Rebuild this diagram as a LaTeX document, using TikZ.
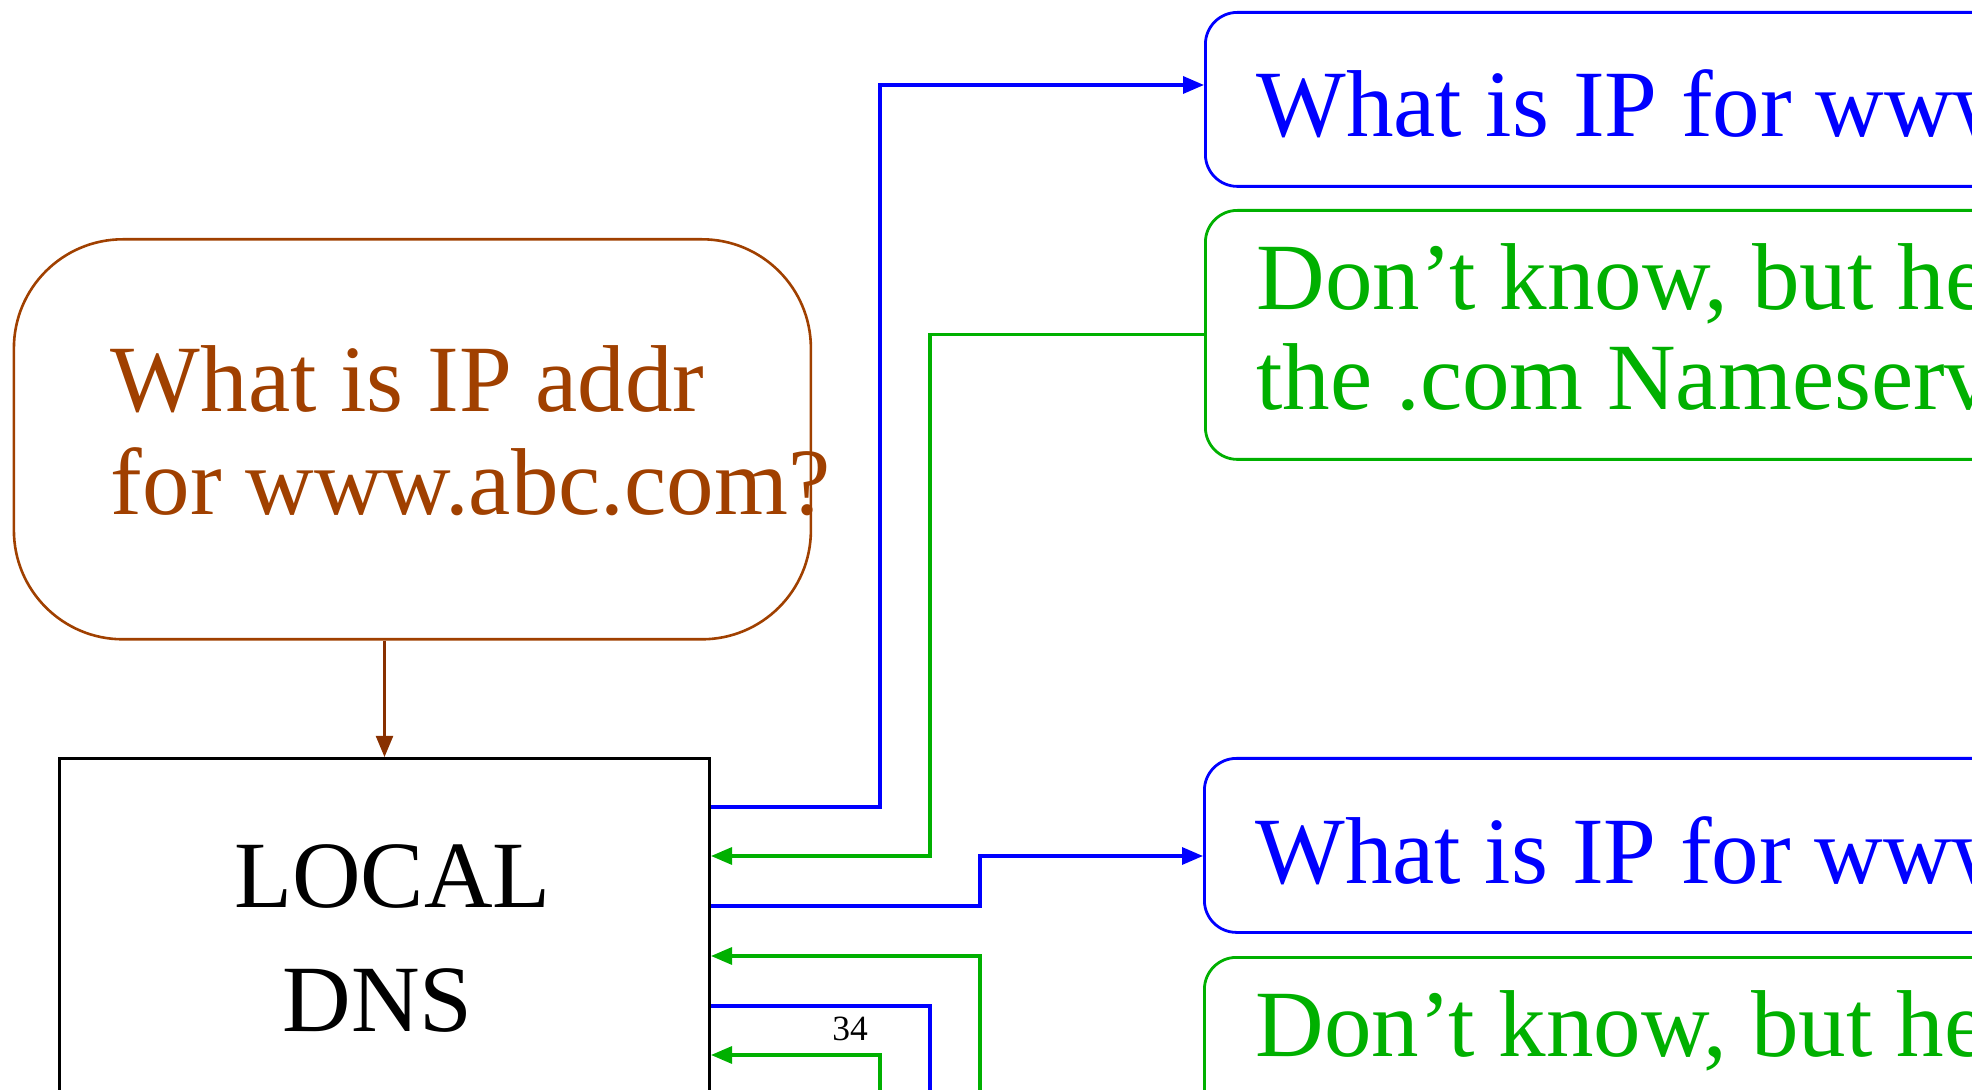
\documentclass[tikz,border=0pt]{standalone}
\usepackage{fontspec}
\setmainfont{Liberation Serif}
\usetikzlibrary{arrows.meta}
\definecolor{xblue}{RGB}{0,0,255}
\definecolor{xgreen}{RGB}{0,176,0}
\definecolor{xbrown}{RGB}{160,64,0}
\definecolor{xbrownline}{RGB}{136,48,0}
\newcommand\bigfont{\fontsize{47.5pt}{51.5pt}\selectfont}
% one left-aligned line of fixed width
\newcommand\lineL[2]{\hbox to #1{#2\hss}}

\begin{document}
\begin{tikzpicture}[x=0.5pt,y=-0.5pt,
  msgbox/.style={draw, rounded corners=16pt, line width=1.4pt, anchor=north west,
    inner ysep=0pt, inner xsep=25.5pt, minimum width=450pt, font=\bigfont, text depth=0pt},
  question/.style={msgbox, draw=xblue, text=xblue, minimum height=87pt},
  answer/.style={msgbox, draw=xgreen, text=xgreen, minimum height=124.5pt},
  tip/.style={-{Triangle[length=10.5pt,width=8.5pt]}},
  bline/.style={draw=xblue, line width=1.7pt},
  gline/.style={draw=xgreen, line width=1.6pt},
  rline/.style={draw=xbrownline, line width=1.1pt}]

\useasboundingbox (0,0) rectangle (1972,1090);
\clip (0,0) rectangle (1972,1090);

% the client's question
\node[draw=xbrown, text=xbrown, line width=1.3pt, rounded corners=54.5pt, anchor=north west,
  inner xsep=48.5pt, inner ysep=0pt, minimum width=398.5pt, minimum height=200pt,
  text height=75pt, text depth=0pt, font=\bigfont] (ask) at (12.6,238)
  {\vbox{\baselineskip=51.5pt \lineL{301.5pt}{What is IP addr}\lineL{301.5pt}{for www.abc.com?}}};

% the local resolver
\node[draw=black, line width=1.5pt, anchor=north west, inner sep=0pt,
  minimum width=325pt, minimum height=179.5pt, text height=93.5pt, text depth=0pt,
  font=\bigfont] (dns) at (58,757)
  {\vbox{\baselineskip=62pt \hbox to 325pt{\hss\kern8pt LOCAL\hss}\hbox to 325pt{\hss\kern-7pt DNS\hss}}};

% queries and referrals
\node[question, text height=37pt] (q1) at (1204,11) {\lineL{399pt}{What is IP for www}};
\node[answer, text height=74.5pt] (a1) at (1204,209)
  {\vbox{\baselineskip=50pt \lineL{399pt}{Don't know, but he}\lineL{399pt}{the .com Nameserv}}};
\node[question, text height=38pt] (q2) at (1203,757) {\lineL{399pt}{What is IP for www}};
\node[answer, text height=0pt, text depth=25.5pt] (a2) at (1203,956) {\lineL{399pt}{Don't know, but he}};

% page number
\node[font=\fontsize{17.75pt}{20pt}\selectfont, anchor=base, inner sep=0pt] (pgno) at (850,1040) {34};

% lines continuing below the visible area
\coordinate (g2) at (980,1100);
\coordinate (b3) at (930,1100);
\coordinate (g3) at (880,1100);

% connectors
\draw[rline, tip] (dns.north |- ask.south) -- (dns.north);
\draw[bline, tip] (dns.east |- 0,807) -| (880,85) -- (q1.west |- 0,85);
\draw[gline, tip] (a1.west) -| (930,856) -- (dns.east |- 0,856);
\draw[bline, tip] (dns.east |- 0,906) -| (980,856) -- (q2.west |- 0,856);
\draw[gline, tip] (g2) |- (dns.east |- 0,956);
\draw[bline] (dns.east |- 0,1006) -| (b3);
\draw[gline, tip] (g3) |- (dns.east |- 0,1055);
\end{tikzpicture}
\end{document}
